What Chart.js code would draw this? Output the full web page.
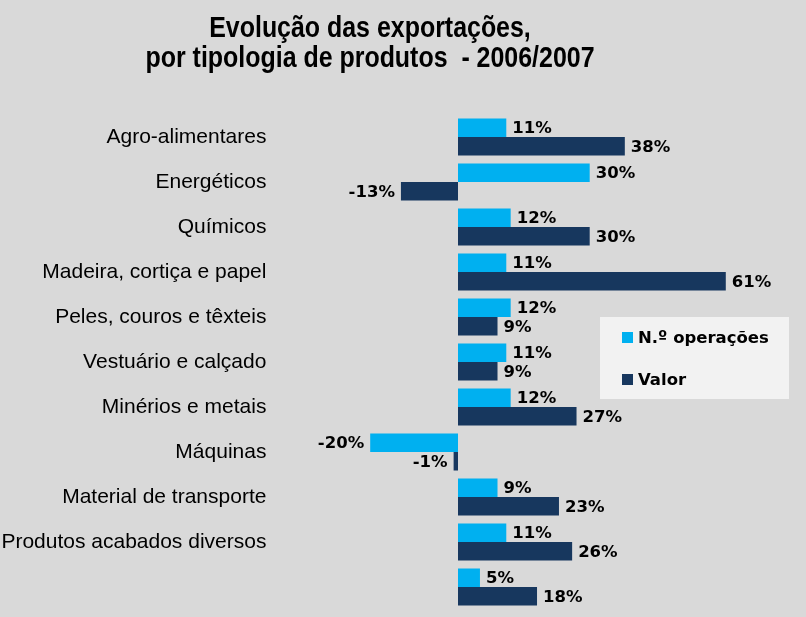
<!DOCTYPE html>
<html><head><meta charset="utf-8">
<script src="https://cdn.jsdelivr.net/npm/chart.js@4.4.1/dist/chart.umd.min.js"></script>
<style>html,body{margin:0;padding:0;background:#d9d9d9;overflow:hidden;}</style>
</head><body>
<canvas id="c" width="806" height="617"></canvas>
<script>
const categories = ['Agro-alimentares','Energéticos','Químicos','Madeira, cortiça e papel','Peles, couros e têxteis','Vestuário e calçado','Minérios e metais','Máquinas','Material de transporte','Produtos acabados diversos',''];
const seriesNames = ['N.º operações','Valor'];
const operacoes = [11,30,12,11,12,11,12,-20,9,11,5];
const valor = [38,-13,30,61,9,9,27,-1,23,26,18];
const titleLines = ['Evolução das exportações,','por tipologia de produtos  - 2006/2007'];
const colors = ['#00b0f0','#17375e'];

const bgPlugin = {
  id:'bg',
  beforeDraw(chart){
    const c = chart.ctx; c.save(); c.fillStyle='#d9d9d9'; c.fillRect(0,0,chart.width,chart.height); c.restore();
  }
};
const valueLabels = {
  id:'valueLabels',
  afterDatasetsDraw(chart){
    const c = chart.ctx; c.save();
    c.font = 'bold 16.5px "DejaVu Sans"'; c.fillStyle='#000'; c.textBaseline='middle';
    chart.data.datasets.forEach((ds,i)=>{
      chart.getDatasetMeta(i).data.forEach((el,j)=>{
        const v = ds.data[j]; const t = v + '%';
        if (v >= 0){ c.textAlign='left'; c.fillText(t, el.x + 6, el.y + 1); }
        else { c.textAlign='right'; c.fillText(t, el.x - 6, el.y + 1); }
      });
    });
    c.restore();
  }
};
const titleLegend = {
  id:'titleLegend',
  afterDraw(chart){
    const c = chart.ctx; c.save();
    c.fillStyle='#000'; c.textAlign='center'; c.textBaseline='alphabetic';
    c.font = 'bold 29px "Liberation Sans", Arial';
    const base = [37, 67];
    titleLines.forEach((t,k)=>{
      c.save(); c.translate(370, base[k]); c.scale(0.86,1); c.fillText(t,0,0); c.restore();
    });
    c.fillStyle='#f2f2f2'; c.fillRect(600,317,189,82);
    c.font='bold 16.5px "DejaVu Sans"'; c.textAlign='left'; c.textBaseline='middle';
    const ly=[337.5,379.5];
    chart.data.datasets.forEach((ds,i)=>{
      c.fillStyle = ds.backgroundColor; c.fillRect(622, ly[i]-5.5, 11, 11);
      c.fillStyle='#000'; c.fillText(ds.label, 638, ly[i]+1);
    });
    c.restore();
  }
};

new Chart(document.getElementById('c'), {
  type:'bar',
  data:{
    labels: categories,
    datasets:[
      {label: seriesNames[0], data: operacoes, backgroundColor: colors[0], barPercentage:1, categoryPercentage:0.82},
      {label: seriesNames[1], data: valor, backgroundColor: colors[1], barPercentage:1, categoryPercentage:0.82}
    ]
  },
  options:{
    indexAxis:'y', responsive:false, animation:false, devicePixelRatio:1,
    layout:{padding:{left:0,right:40.7,top:114.5,bottom:7.5}},
    plugins:{legend:{display:false}, title:{display:false}, tooltip:{enabled:false}},
    scales:{
      x:{display:false, min:-40, max:70},
      y:{
        grid:{display:false, drawTicks:false}, border:{display:false},
        ticks:{color:'#000', padding:16, font:{family:'"Liberation Sans", Arial', size:21}, autoSkip:false},
        afterFit(s){ s.width = 282.4; s.paddingTop = 0; s.paddingBottom = 0; }
      }
    }
  },
  plugins:[bgPlugin, valueLabels, titleLegend]
});
</script>
</body></html>
